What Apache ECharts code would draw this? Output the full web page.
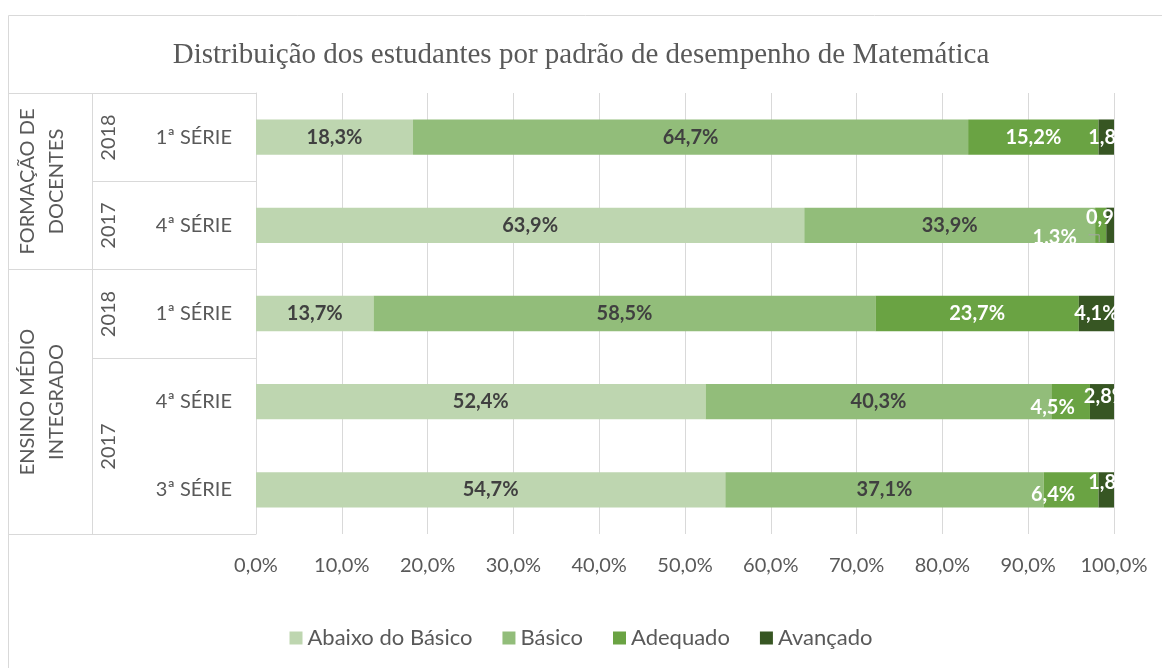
<!DOCTYPE html>
<html>
<head>
<meta charset="utf-8">
<script src="https://cdn.jsdelivr.net/npm/echarts@6/dist/echarts.min.js"></script>
<style>
  html, body { margin: 0; padding: 0; background: #fff; }
  #chart { width: 1162px; height: 668px; }
</style>
</head>
<body>
<div id="chart"></div>
<script>
// row labels, top to bottom
const categories = ['1ª SÉRIE', '4ª SÉRIE', '1ª SÉRIE', '4ª SÉRIE', '3ª SÉRIE'];
// merged cells of the upper levels: [first row, last row + 1]
const yearLabels = ['2018', '2017', '2018', '2017'];
const yearSpans = [[0, 1], [1, 2], [2, 3], [3, 5]];
const groupLabels = ['FORMAÇÃO DE\nDOCENTES', 'ENSINO MÉDIO\nINTEGRADO'];
const groupSpans = [[0, 2], [2, 5]];

const seriesNames = ['Abaixo do Básico', 'Básico', 'Adequado', 'Avançado'];
const abaixo   = [18.3, 63.9, 13.7, 52.4, 54.7];
const basico   = [64.7, 33.9, 58.5, 40.3, 37.1];
const adequado = [15.2, 1.3, 23.7, 4.5, 6.4];
const avancado = [1.8, 0.9, 4.1, 2.8, 1.8];

const FONT = 'Lato';
const colors = ['#bed6b0', '#92bd7a', '#6aa343', '#375623'];
const labelColors = ['#404040', '#404040', '#ffffff', '#ffffff'];
// small segments whose labels Excel moved around ("series-row": [dx, dy])
const labelOffsets = {
  '2-1': [-46, 12],
  '3-1': [-2, -8],
  '2-3': [-18, 6],
  '3-3': [4, -5],
  '2-4': [-18, 5],
  '3-4': [4, -7],
  '3-0': [4, 0]
};

const fmt = v => v.toFixed(1).replace('.', ',') + '%';

const chart = echarts.init(document.getElementById('chart'));

const values = [abaixo, basico, adequado, avancado];
const series = values.map((arr, si) => ({
  name: seriesNames[si],
  type: 'bar',
  stack: 'total',
  barWidth: '40%',
  itemStyle: { color: colors[si] },
  label: {
    show: true,
    position: 'inside',
    color: labelColors[si],
    fontFamily: FONT,
    fontWeight: 'bold',
    fontSize: 20,
    formatter: p => fmt(p.value)
  },
  data: arr.map((v, i) => {
    const off = labelOffsets[si + '-' + i];
    return off ? { value: v, label: { offset: off } } : v;
  })
}));

var option = {
  animation: false,
  title: {
    text: 'Distribuição dos estudantes por padrão de desempenho de Matemática',
    left: 'center',
    top: 36,
    textStyle: { fontFamily: 'Liberation Serif', fontWeight: 'normal', fontSize: 29, color: '#595959' }
  },
  legend: {
    data: seriesNames,
    bottom: 14,
    left: 'center',
    itemWidth: 13,
    itemHeight: 13,
    itemGap: 30,
    icon: 'rect',
    textStyle: { fontFamily: FONT, fontSize: 22, color: '#595959' }
  },
  grid: { left: 256, right: 48, top: 93, bottom: 134 },
  xAxis: {
    type: 'value',
    min: 0,
    max: 100,
    interval: 10,
    axisLine: { show: false },
    axisTick: { show: false },
    splitLine: { lineStyle: { color: '#d9d9d9', width: 1 } },
    axisLabel: {
      margin: 22,
      fontFamily: FONT,
      fontSize: 20,
      color: '#595959',
      formatter: v => v.toFixed(1).replace('.', ',') + '%'
    }
  },
  yAxis: {
    type: 'category',
    inverse: true,
    data: categories,
    axisLine: { show: true, lineStyle: { color: '#d9d9d9' } },
    axisTick: { show: false },
    axisLabel: { margin: 24, fontFamily: FONT, fontSize: 20, color: '#595959' }
  },
  series: series
};

// Use just the specified configurations and data charts.
chart.setOption(option);

// multi-level category table on the left, placed from the axis scale
const xAxisPx = chart.convertToPixel({ xAxisIndex: 0 }, 0);
const c0 = chart.convertToPixel({ yAxisIndex: 0 }, 0);
const c1 = chart.convertToPixel({ yAxisIndex: 0 }, 1);
const band = c1 - c0;
const edge = k => Math.round(c0 + (k - 0.5) * band) + 0.5;
const xOuter = 8, xYearCol = 92;
const lineStyle = { stroke: '#d9d9d9', lineWidth: 1 };
const textStyle = { fontFamily: FONT, fontSize: 20, fill: '#595959', align: 'center', verticalAlign: 'middle' };

const elements = [
  { type: 'rect', shape: { x: xOuter + 0.5, y: 15.5, width: 1300, height: 800 }, style: { fill: 'none', stroke: '#d9d9d9', lineWidth: 1 }, silent: true },
  { type: 'line', shape: { x1: xYearCol + 0.5, y1: edge(0), x2: xYearCol + 0.5, y2: edge(5) }, style: lineStyle }
];
groupSpans.forEach(([a, b], gi) => {
  [a, b].forEach(k => elements.push({ type: 'line', shape: { x1: xOuter, y1: edge(k), x2: xAxisPx, y2: edge(k) }, style: lineStyle }));
  elements.push({
    type: 'text', x: (xOuter + xYearCol) / 2 - 8, y: (edge(a) + edge(b)) / 2, rotation: Math.PI / 2,
    style: Object.assign({ text: groupLabels[gi], lineHeight: 29 }, textStyle)
  });
});
yearSpans.forEach(([a, b], yi) => {
  elements.push({ type: 'line', shape: { x1: xYearCol, y1: edge(a), x2: xAxisPx, y2: edge(a) }, style: lineStyle });
  elements.push({
    type: 'text', x: 109, y: (edge(a) + edge(b)) / 2, rotation: Math.PI / 2,
    style: Object.assign({ text: yearLabels[yi] }, textStyle)
  });
});
// leader line of the moved 1,3% label
const p13 = chart.convertToPixel({ xAxisIndex: 0, yAxisIndex: 0 }, [abaixo[1] + basico[1] + adequado[1] / 2, 1]);
elements.push({ type: 'polyline', z: 10, shape: { points: [[p13[0] - 12, p13[1] + 9.5], [p13[0] - 1.5, p13[1] + 9.5], [p13[0] - 1.5, p13[1] + 17]] }, style: { stroke: '#a6a6a6', lineWidth: 1, fill: 'none' } });
chart.setOption({ graphic: elements });
</script>
</body>
</html>
